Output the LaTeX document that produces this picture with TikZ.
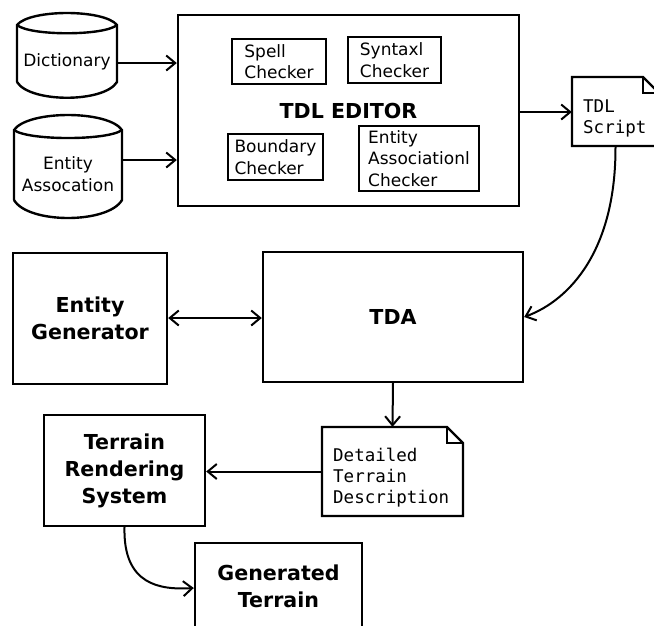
\documentclass[tikz,border=0pt]{standalone}
\usepackage{fontspec}
\setmainfont{DejaVu Sans}
\setmonofont{DejaVu Sans Mono}
\usetikzlibrary{arrows.meta}
\begin{document}
\begin{tikzpicture}[x=1pt,y=-1pt,
  line/.style={line width=2.4pt, line join=miter},
  box/.style={draw, line width=2.4pt, inner sep=0pt, align=center},
  sbox/.style={draw, line width=2.2pt, inner sep=0pt, align=left, small},
  small/.style={font=\fontsize{17}{21.5}\selectfont},
  big/.style={font=\bfseries\fontsize{20.6}{27}\selectfont},
  mono/.style={font=\ttfamily\fontsize{17.5}{21}\selectfont},
  tip/.tip={Straight Barb[length=9pt,width=15pt,line width=2pt]},
  arr/.style={line width=2pt, -tip},
  darr/.style={line width=2pt, tip-tip},
]
\clip (0,0) rectangle (654,625);
\fill[white] (0,0) rectangle (654,625);

% Dictionary cylinder
\node[small, inner sep=0pt, minimum width=100pt, minimum height=73pt, align=center] (dict) at (67,61.5) {Dictionary};
\draw[line] (17,82) -- (17,25) .. controls (30,9) and (104,9) .. (117,25) -- (117,82) .. controls (104,103) and (30,103) .. (17,82);
\draw[line] (17,25) .. controls (30,36) and (104,36) .. (117,25);

% Entity Assocation cylinder
\node[small, inner sep=0pt, minimum width=108pt, minimum height=88pt, align=center] (ent) at (68,174) {Entity\\Assocation};
\draw[line] (14,200) -- (14,130) .. controls (28,110) and (108,110) .. (122,130) -- (122,200) .. controls (108,224) and (28,224) .. (14,200);
\draw[line] (14,130) .. controls (28,140.7) and (108,140.7) .. (122,130);

% TDL editor
\node[box, big, minimum width=341pt, minimum height=191pt] (editor) at (348.5,110.5) {TDL EDITOR};
\node[sbox, minimum width=94pt, minimum height=45pt] (spell) at (279,61.5) {Spell\\Checker};
\node[sbox, minimum width=93pt, minimum height=46pt] (syntax) at (394.5,60) {Syntaxl\\Checker};
\node[sbox, minimum width=95pt, minimum height=46pt] (bound) at (275.5,157) {Boundary\\Checker};
\node[sbox, minimum width=120pt, minimum height=65pt] (eac) at (419,158.5) {Entity\\Associationl\\Checker};

% TDL Script note
\node[inner sep=0pt, minimum width=87pt, minimum height=69pt] (tdl) at (615.5,111.5) {};
\draw[line] (572,77) -- (643,77) -- (659,93) -- (659,146) -- (572,146) -- cycle;
\draw[line] (643,77) -- (643,93) -- (659,93);
\node[mono, anchor=west, align=left, inner sep=0pt] (tdltext) at (583,118) {TDL\\Script};

% Middle row
\node[box, big, minimum width=154pt, minimum height=131pt] (egen) at (90,318.5) {Entity\\Generator};
\node[box, big, minimum width=260pt, minimum height=130pt] (tda) at (393,317) {TDA};

% Detailed Terrain Description note
\node[inner sep=0pt, minimum width=141pt, minimum height=89pt] (det) at (392.5,471.5) {};
\draw[line] (322,427) -- (447,427) -- (463,443) -- (463,516) -- (322,516) -- cycle;
\draw[line] (447,427) -- (447,443) -- (463,443);
\node[mono, anchor=west, align=left, inner sep=0pt] (dettext) at (333,478) {Detailed\\Terrain\\Description};

% Bottom boxes
\node[box, big, minimum width=161pt, minimum height=111pt] (trs) at (124.5,470.5) {Terrain\\Rendering\\System};
\node[box, big, minimum width=167pt, minimum height=86pt] (gen) at (278.5,586) {Generated\\Terrain};

% Connectors
\draw[arr] (dict.east |- 0,63) -- (editor.west |- 0,63);
\draw[arr] (ent.east |- 0,160) -- (editor.west |- 0,160);
\draw[arr] (editor.east |- 0,112) -- (tdl.west |- 0,112);
\draw[darr] (egen.east |- 0,318) -- (tda.west |- 0,318);
\draw[arr] (tda.south) -- (det.north);
\draw[arr] (det.west) -- (trs.east |- det.west);
\draw[arr] (tdl.south) .. controls (616,250) and (570,300) .. (tda.east);
\draw[arr] (trs.south) .. controls (123,585) and (160,590) .. (gen.west |- 0,588);
\end{tikzpicture}
\end{document}
